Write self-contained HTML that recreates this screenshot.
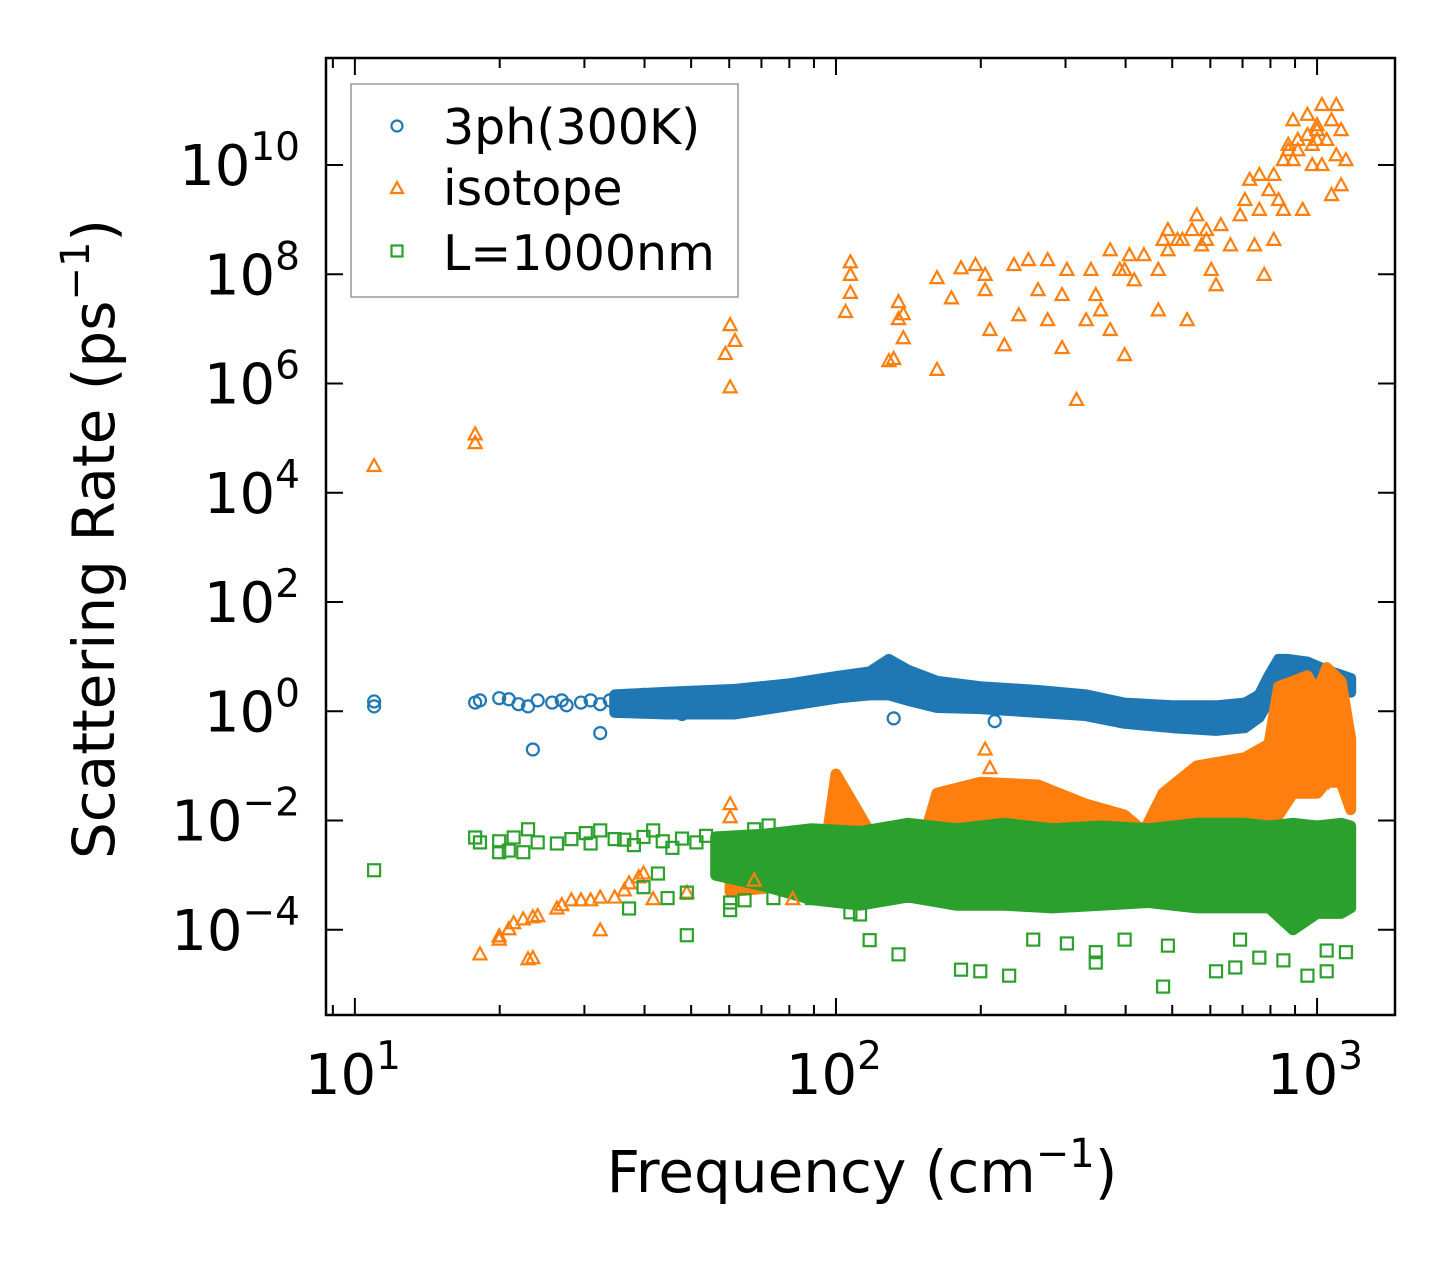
<!DOCTYPE html>
<html><head><meta charset="utf-8"><style>
html,body{margin:0;padding:0;background:#fff;}
svg{display:block;font-family:"DejaVu Sans","Liberation Sans",sans-serif;}
</style></head>
<body>
<svg id="chart" width="1455" height="1265" viewBox="0 0 1455 1265" xmlns="http://www.w3.org/2000/svg">
<rect x="0" y="0" width="1455" height="1265" fill="#fff"/>
<g id="bands"></g>
<g id="marks"></g>
<g id="axes"></g>
</svg>
<script>
// ---- data (log10 frequency, log10 rate) ----
const blueBandF=[1.54,1.65,1.79,1.90,2.01,2.07,2.11,2.15,2.21,2.30,2.42,2.52,2.60,2.70,2.79,2.85,2.88,2.90,2.92,2.94,2.98,3.02,3.07];
const blueBandLo=[-0.02,-0.05,-0.05,0.10,0.25,0.30,0.30,0.20,0.07,0.05,-0.02,-0.08,-0.22,-0.30,-0.35,-0.30,-0.11,0.20,0.57,0.70,0.60,0.45,0.35];
const blueBandHi=[0.30,0.35,0.40,0.50,0.65,0.72,0.95,0.75,0.55,0.45,0.38,0.30,0.15,0.10,0.10,0.15,0.30,0.65,0.95,0.95,0.90,0.75,0.60];
const orangeBandF=[1.78,1.90,1.98,2.00,2.03,2.07,2.18,2.21,2.30,2.42,2.52,2.60,2.64,2.68,2.75,2.85,2.90,2.92,2.95,2.98,3.00,3.02,3.05,3.07];
const orangeBandHi=[-2.9,-2.6,-2.4,-1.15,-1.6,-2.2,-2.4,-1.5,-1.3,-1.35,-1.7,-1.9,-2.2,-1.5,-1.0,-0.85,-0.6,0.45,0.55,0.65,0.35,0.8,0.55,-0.5];
const orangeBandLo=[-3.3,-3.2,-3.0,-2.6,-2.8,-3.0,-3.3,-2.5,-2.4,-2.4,-2.4,-2.3,-2.4,-2.4,-2.4,-2.3,-2.0,-1.9,-1.5,-1.5,-1.5,-1.3,-1.3,-1.8];
const greenBandF=[1.75,1.85,1.95,2.05,2.15,2.25,2.35,2.45,2.55,2.65,2.75,2.85,2.90,2.95,3.00,3.05,3.07];
const greenBandHi=[-2.3,-2.25,-2.15,-2.2,-2.05,-2.15,-2.05,-2.15,-2.1,-2.15,-2.05,-2.05,-2.1,-2.05,-2.1,-2.05,-2.1];
const greenBandLo=[-3.0,-3.2,-3.45,-3.55,-3.4,-3.55,-3.55,-3.6,-3.55,-3.5,-3.6,-3.6,-3.6,-4.0,-3.7,-3.7,-3.6];

const blueF=[1.04,1.04,1.25,1.26,1.30,1.32,1.34,1.36,1.37,1.38,1.41,1.43,1.44,1.47,1.49,1.51,1.51,1.53,1.56,1.58,1.60,1.62,1.64,1.66,1.68,1.70,1.72,2.12,2.33,2.84];
const blueV=[0.18,0.09,0.16,0.20,0.24,0.22,0.13,0.09,-0.70,0.20,0.16,0.20,0.11,0.16,0.20,-0.40,0.13,0.20,0.25,0.10,0.30,0.05,0.28,0.15,-0.05,0.30,0.12,-0.13,-0.18,-0.26];

const orangeHiF=[1.04,1.25,1.25,1.78,1.77,1.79,1.78,2.03,2.03,2.03,2.02,2.11,2.12,2.13,2.13,2.14,2.14,2.21,2.21,2.24,2.26,2.29,2.31,2.31,2.32,2.35,2.37,2.38,2.40,2.42,2.44,2.44,2.47,2.47,2.48,2.50,2.52,2.53,2.54,2.55,2.57,2.57,2.59,2.60,2.60,2.61,2.62,2.64,2.67,2.67,2.68,2.69,2.69,2.71,2.72,2.73,2.74,2.75,2.76,2.77,2.77,2.78,2.79,2.80,2.82,2.84,2.85,2.86,2.87,2.88,2.88,2.89,2.90,2.91,2.91,2.92,2.93,2.93,2.94,2.94,2.95,2.95,2.96,2.96,2.97,2.98,2.98,2.99,2.99,3.00,3.00,3.00,3.01,3.01,3.02,3.03,3.03,3.04,3.04,3.05,3.05,3.06];
const orangeHiV=[4.49,5.07,4.91,7.07,6.54,6.78,5.93,8.22,7.99,7.66,7.31,6.41,6.45,7.49,7.18,7.27,6.83,7.93,6.25,7.56,8.11,8.17,7.99,7.71,6.98,6.70,8.17,7.25,8.26,7.71,8.26,7.16,7.62,6.65,8.08,5.70,7.16,8.08,7.62,7.34,8.44,6.98,8.08,6.52,8.08,8.35,7.89,8.35,7.34,8.08,8.63,8.44,8.81,8.63,8.63,7.16,8.81,9.08,8.53,8.81,8.63,8.08,7.80,8.90,8.53,9.08,9.36,9.73,8.53,9.18,9.82,7.99,9.54,8.63,9.82,9.36,9.18,10.09,10.37,10.27,10.09,10.82,10.27,10.46,9.18,10.55,10.92,10.00,10.37,10.73,10.46,10.64,11.10,10.00,10.46,10.82,9.45,10.18,11.10,10.64,9.63,10.09];

const orangeLoF=[1.26,1.30,1.30,1.32,1.33,1.35,1.37,1.38,1.42,1.43,1.45,1.47,1.49,1.51,1.54,1.56,1.57,1.59,1.60,1.36,1.37,1.51,1.62,1.78,1.78,1.83,1.91,1.69,2.31,2.32,2.47,3.01,3.05,3.06];
const orangeLoV=[-4.45,-4.12,-4.18,-3.99,-3.88,-3.81,-3.77,-3.75,-3.61,-3.55,-3.46,-3.46,-3.46,-3.41,-3.41,-3.28,-3.15,-3.04,-2.97,-4.54,-4.52,-4.01,-3.44,-1.70,-1.94,-3.10,-3.44,-3.32,-0.70,-1.04,-1.58,-1.32,-1.17,-1.04];

const greenF=[1.04,1.25,1.26,1.30,1.30,1.32,1.33,1.35,1.36,1.38,1.42,1.45,1.48,1.51,1.49,1.54,1.57,1.60,1.63,1.65,1.69,1.69,1.78,1.78,1.81,1.83,1.86,1.87,1.95,1.62,2.03,2.05,2.07,2.13,2.26,2.30,2.36,2.41,2.48,2.54,2.54,2.60,2.68,2.69,2.79,2.83,2.84,2.88,2.93,2.98,3.02,3.02,3.06,1.56,1.58,1.60,1.64,1.66,1.68,1.71,1.73];
const greenV=[-2.91,-2.31,-2.40,-2.38,-2.58,-2.55,-2.31,-2.58,-2.16,-2.40,-2.42,-2.34,-2.23,-2.18,-2.42,-2.34,-3.61,-3.22,-2.97,-3.42,-4.10,-3.32,-3.64,-3.50,-3.46,-2.16,-2.09,-3.42,-3.42,-2.18,-3.68,-3.72,-4.19,-4.45,-4.73,-4.76,-4.84,-4.18,-4.25,-4.60,-4.41,-4.18,-5.04,-4.29,-4.76,-4.69,-4.18,-4.51,-4.56,-4.84,-4.76,-4.38,-4.41,-2.35,-2.45,-2.30,-2.38,-2.50,-2.33,-2.40,-2.28];

const xTickExp=[1,2,3];
const yTickExp=[-4,-2,0,2,4,6,8,10];

// ---- axes geometry ----
const L=326,R=1395,T=58,B=1015;
const xLo=0.940,xHi=3.162,yLo=-5.56,yHi=11.96;
function X(lf){return L+(lf-xLo)/(xHi-xLo)*(R-L);}
function Y(lv){return B-(lv-yLo)/(yHi-yLo)*(B-T);}
const NS="http://www.w3.org/2000/svg";
function mk(tag,attrs,parent){const e=document.createElementNS(NS,tag);for(const k in attrs)e.setAttribute(k,attrs[k]);parent.appendChild(e);return e;}
const bands=document.getElementById('bands'),marks=document.getElementById('marks'),axes=document.getElementById('axes');
const BLUE="#1f77b4",ORANGE="#ff7f0e",GREEN="#2ca02c";

function band(F,Lo,Hi,color,name){
  let pts=[];
  for(let i=0;i<F.length;i++)pts.push(X(F[i]).toFixed(1)+","+Y(Hi[i]).toFixed(1));
  for(let i=F.length-1;i>=0;i--)pts.push(X(F[i]).toFixed(1)+","+Y(Lo[i]).toFixed(1));
  const p=mk('polygon',{points:pts.join(' '),fill:color,stroke:color,'stroke-width':11,'stroke-linejoin':'round'},bands);
  
  
}
function circles(F,V){for(let i=0;i<F.length;i++){const c=mk('circle',{cx:X(F[i]),cy:Y(V[i]),r:6,fill:'none',stroke:BLUE,'stroke-width':2.2},marks);
  
  }}
function tris(F,V){for(let i=0;i<F.length;i++){const x=X(F[i]),y=Y(V[i]);const t=mk('polygon',{points:`${x},${y-7} ${x-6.5},${y+5} ${x+6.5},${y+5}`,fill:'none',stroke:ORANGE,'stroke-width':2.2},marks);
  
  }}
function squares(F,V){for(let i=0;i<F.length;i++){const x=X(F[i]),y=Y(V[i]);const s=mk('rect',{x:x-6,y:y-6,width:12,height:12,fill:'none',stroke:GREEN,'stroke-width':2.2},marks);
  
  }}

band(blueBandF,blueBandLo,blueBandHi,BLUE,'3ph-dense-band');
circles(blueF,blueV);
band(orangeBandF,orangeBandLo,orangeBandHi,ORANGE,'isotope-dense-band');
tris(orangeHiF,orangeHiV);
tris(orangeLoF,orangeLoV);
band(greenBandF,greenBandLo,greenBandHi,GREEN,'l1000nm-dense-band');
squares(greenF,greenV);

// frame
const fr=mk('rect',{x:L,y:T,width:R-L,height:B-T,fill:'none',stroke:'#000','stroke-width':2.5},axes);


// x ticks
for(let d=0;d<=3;d++){for(let m=1;m<=9;m++){const lf=d+Math.log10(m);if(lf<xLo||lf>xHi)continue;const x=X(lf);const len=m===1?17:10;
  mk('line',{x1:x,y1:B,x2:x,y2:B-len,stroke:'#000','stroke-width':2},axes);
  mk('line',{x1:x,y1:T,x2:x,y2:T+len,stroke:'#000','stroke-width':2},axes);}}
xTickExp.forEach(e=>{const t=mk('text',{x:X(e)-2,y:1094,'font-size':56,'text-anchor':'middle',fill:'#000'},axes);
  
  
  t.textContent='10';const s=document.createElementNS(NS,'tspan');s.setAttribute('dy','-25');s.setAttribute('font-size','39');s.textContent=e;t.appendChild(s);});
// y ticks
yTickExp.forEach(e=>{const y=Y(e);
  mk('line',{x1:L,y1:y,x2:L+17,y2:y,stroke:'#000','stroke-width':2},axes);
  mk('line',{x1:R,y1:y,x2:R-17,y2:y,stroke:'#000','stroke-width':2},axes);
  const t=mk('text',{x:300,y:y+20,'font-size':56,'text-anchor':'end',fill:'#000'},axes);
  
  
  const a=document.createElementNS(NS,'tspan');a.textContent='10';t.appendChild(a);
  const s=document.createElementNS(NS,'tspan');s.setAttribute('dy','-25');s.setAttribute('font-size','39');s.textContent=(e<0?'\u2212'+(-e):String(e));t.appendChild(s);});
</script>
<svg style="position:absolute;left:0;top:0" width="1455" height="1265" xmlns="http://www.w3.org/2000/svg">
<text x="862" y="1192" font-size="58" text-anchor="middle" font-family="DejaVu Sans, Liberation Sans, sans-serif">Frequency (cm<tspan dy="-25" font-size="40">−1</tspan><tspan dy="25">)</tspan></text>
<text transform="translate(114,539) rotate(-90)" font-size="58" text-anchor="middle" font-family="DejaVu Sans, Liberation Sans, sans-serif">Scattering Rate (ps<tspan dy="-25" font-size="40">−1</tspan><tspan dy="25">)</tspan></text>
<g>
<rect x="351" y="84" width="387" height="213" fill="#fff" fill-opacity="0.85" stroke="#999" stroke-width="1.5"/>
<circle cx="397" cy="126" r="5.5" fill="none" stroke="#1f77b4" stroke-width="2.2"/>
<text x="443" y="144" font-size="49" font-family="DejaVu Sans, Liberation Sans, sans-serif">3ph(300K)</text>
<polygon points="397,182 391,193 403,193" fill="none" stroke="#ff7f0e" stroke-width="2.2"/>
<text x="443" y="205" font-size="49" font-family="DejaVu Sans, Liberation Sans, sans-serif">isotope</text>
<rect x="391.5" y="245.5" width="11" height="11" fill="none" stroke="#2ca02c" stroke-width="2.2"/>
<text x="443" y="270" font-size="49" font-family="DejaVu Sans, Liberation Sans, sans-serif">L=1000nm</text>
</g>
</svg>
</body></html>
